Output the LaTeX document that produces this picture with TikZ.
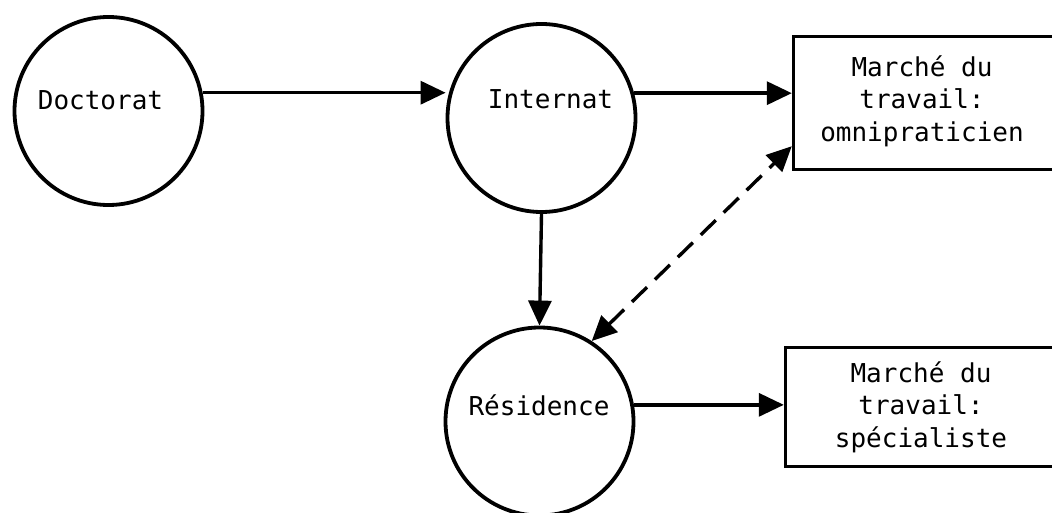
\documentclass[tikz,border=0pt]{standalone}
\usepackage{fontspec}
\setmonofont{DejaVu Sans Mono}
\usetikzlibrary{arrows.meta,calc}
\begin{document}
\begin{tikzpicture}[x=1pt,y=-1pt,
  circ/.style={circle, draw, line width=3.8pt, minimum size=188pt, inner sep=0pt},
  boxn/.style={rectangle, draw, line width=3.4pt, inner sep=0pt},
  lbl/.style={font=\fontsize{26}{32.5}\selectfont\ttfamily, align=center, inner sep=0pt},
  conn/.style={line width=3.4pt, -{Triangle[length=25pt,width=23pt]}},
  dconn/.style={line width=3.4pt, dash pattern=on 21pt off 11pt,
    {Triangle[length=25pt,width=23pt]}-{Triangle[length=25pt,width=23pt]}},
]
\path[use as bounding box] (0,0) rectangle (1052,513);
\clip (0,0) rectangle (1052,513);

\node[circ] (doc) at (108.5,111) {};
\node[circ] (int) at (541.5,118) {};
\node[circ] (res) at (539.5,421.5) {};
\node[boxn, minimum width=267pt, minimum height=133pt] (m1) at (927,103) {};
\node[boxn, minimum width=275pt, minimum height=119pt] (m2) at (923,407) {};

\node[lbl, anchor=base] (doct) at (100.5,110) {Doctorat};
\node[lbl, anchor=base] (intt) at (550.5,109) {Internat};
\node[lbl, anchor=base] (rest) at (539,415) {Résidence};
\node[lbl] (m1t) at (922,101) {Marché du\\travail:\\omnipraticien};
\node[lbl] (m2t) at (921,407) {Marché du\\travail:\\spécialiste};

\coordinate (dt) at ($(m1.south west)+(0,-25)$);

\draw[conn] (doc.11) -- (int.west |- doc.11);
\draw[conn] (int.15) -- (m1.west |- int.15);
\draw[conn] (int.south) -- (res.north);
\draw[conn] (res.10) -- (m2.west |- res.10);
\draw[dconn] (res.57) -- (dt);
\end{tikzpicture}
\end{document}
